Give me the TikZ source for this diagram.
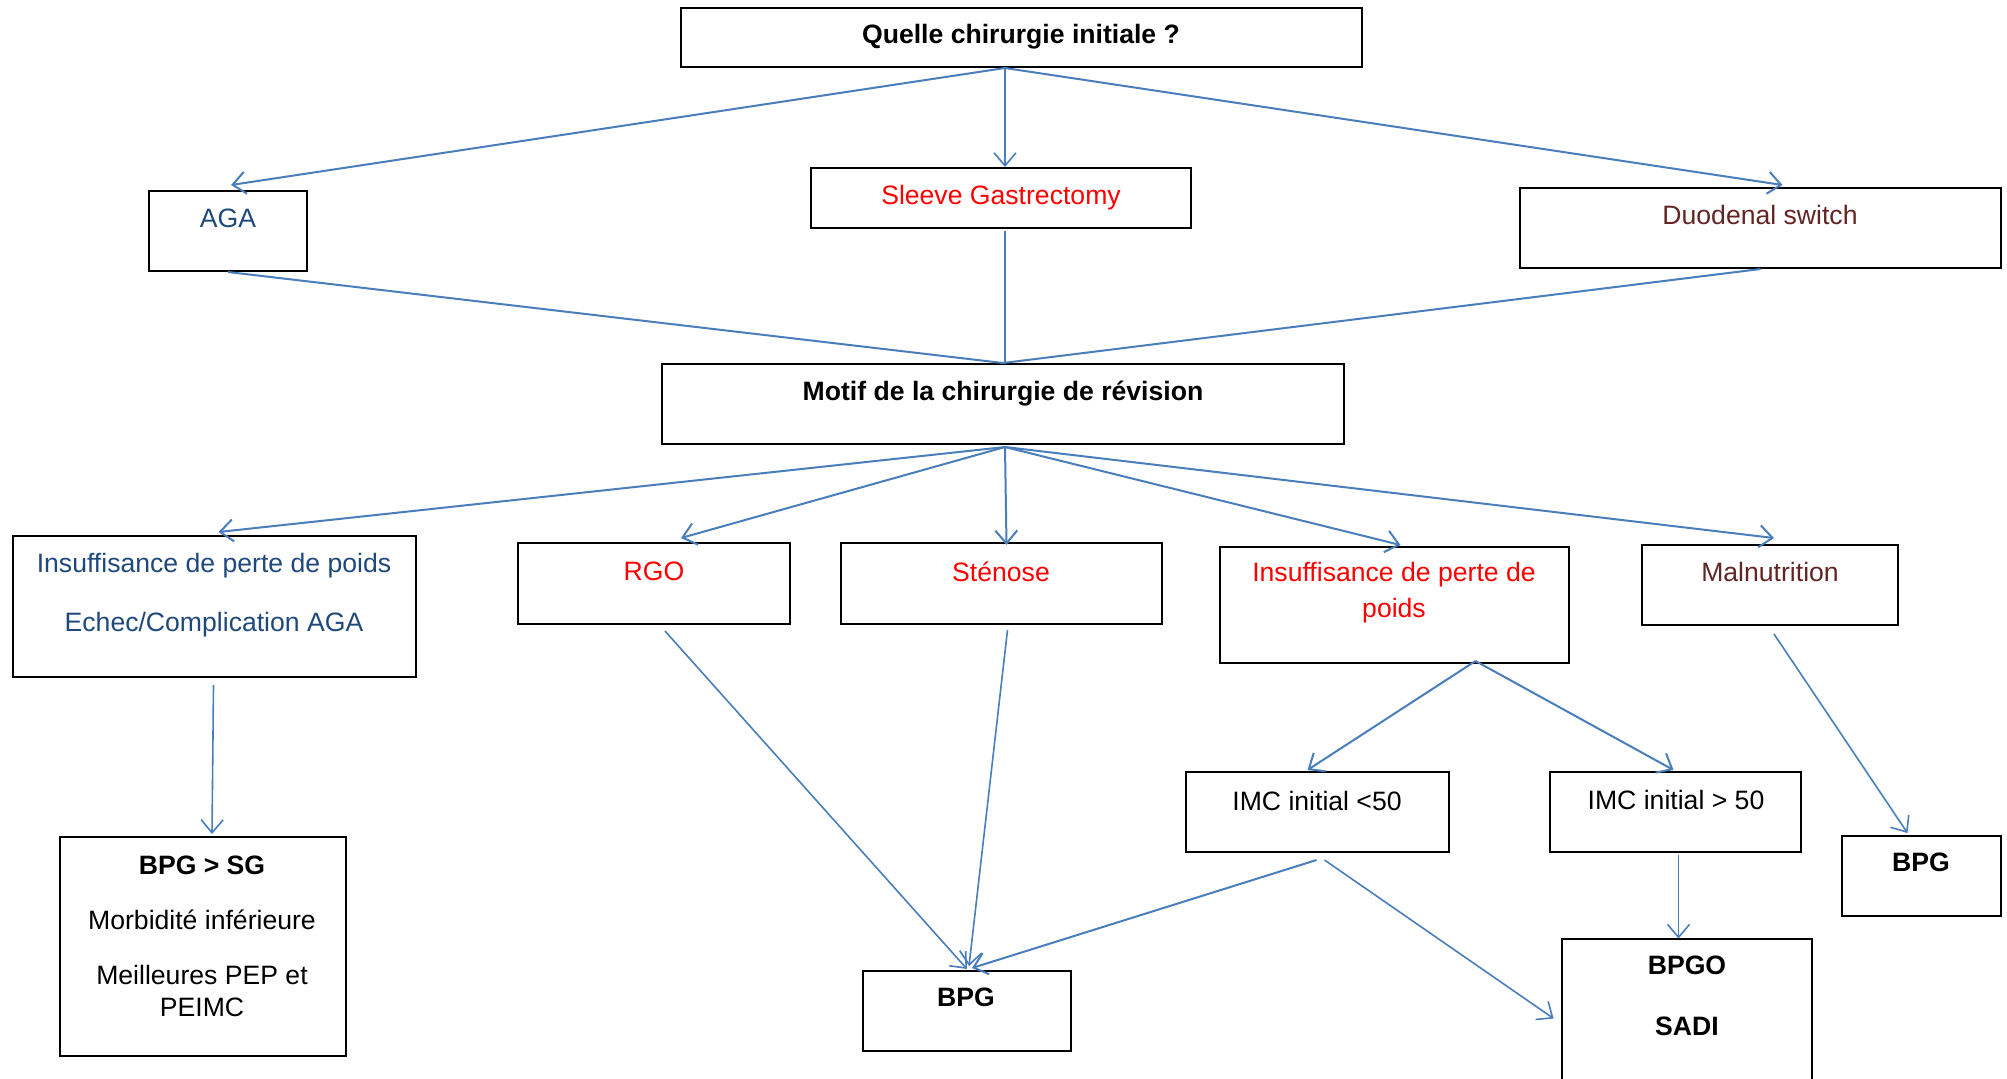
\documentclass[tikz,border=0pt]{standalone}
\usepackage{fontspec}
\setmainfont{Liberation Sans}
\usetikzlibrary{arrows.meta,calc}
\definecolor{arr}{HTML}{4A7EBB}
\definecolor{dblue}{HTML}{1F497D}
\definecolor{dred}{HTML}{632523}
\definecolor{pred}{HTML}{FF0000}
\begin{document}
\begin{tikzpicture}[x=0.5pt,y=-0.5pt,
  box/.style={draw=black,line width=1pt,rectangle,inner sep=0pt},
  txt/.style={inner sep=0pt,align=center,yshift=-0.5pt,font=\fontsize{13.3}{17}\selectfont},
  btxt/.style={txt,font=\fontsize{13.3}{17}\selectfont\bfseries},
  conn/.style={draw=arr,line width=1pt},
  thin/.style={draw=arr,line width=0.8pt},
  arrow/.style={-{Straight Barb[length=6.5pt,width=11pt]}}]
\useasboundingbox (0,0) rectangle (2007,1078);
% boxes
\node[box,minimum width=340.5pt,minimum height=29.5pt] (q) at (1021.5,37.5) {};
\node[box,minimum width=79pt,minimum height=40pt] (aga) at (228,231) {};
\node[box,minimum width=190pt,minimum height=30pt] (sg) at (1001,198) {};
\node[box,minimum width=240.5pt,minimum height=40pt] (ds) at (1760.5,228) {};
\node[box,minimum width=341pt,minimum height=40pt] (motif) at (1003,404) {};
\node[box,minimum width=201.5pt,minimum height=70.5pt] (ins1) at (214.5,606.5) {};
\node[box,minimum width=136pt,minimum height=40.5pt] (rgo) at (654,583.5) {};
\node[box,minimum width=160.5pt,minimum height=40.5pt] (sten) at (1001.5,583.5) {};
\node[box,minimum width=174.5pt,minimum height=58pt] (ins2) at (1394.5,605) {};
\node[box,minimum width=128pt,minimum height=40pt] (mal) at (1770,585) {};
\node[box,minimum width=143pt,minimum height=109.5pt] (bpgsg) at (203,946.5) {};
\node[box,minimum width=104pt,minimum height=40pt] (bpg) at (967,1011) {};
\node[box,minimum width=131.5pt,minimum height=40pt] (imc1) at (1317.5,812) {};
\node[box,minimum width=125.5pt,minimum height=40pt] (imc2) at (1675.5,812) {};
\node[inner sep=0pt,minimum width=125pt,minimum height=75.5pt] (bpgo) at (1687,1014.5) {};
\draw[line width=1pt] (bpgo.south west) |- (bpgo.north east) -- (bpgo.south east);
\node[box,minimum width=79.5pt,minimum height=40pt] (bpg2) at (1921.5,876) {};
% texts
\node[btxt] (qT) at (1021,36) {Quelle chirurgie initiale ?};
\node[txt,text=dblue] (agaT) at (228,217) {AGA};
\node[txt,text=pred] (sgT) at (1001,197) {Sleeve Gastrectomy};
\node[txt,text=dred] (dsT) at (1760,214) {Duodenal switch};
\node[btxt] (motifT) at (1003,393) {Motif de la chirurgie de révision};
\node[txt,text=dblue] (ins1a) at (214,565) {Insuffisance de perte de poids};
\node[txt,text=dblue] (ins1b) at (214,624) {Echec/Complication AGA};
\node[txt,text=pred] (rgoT) at (654,570) {RGO};
\node[txt,text=pred] (stenT) at (1001,571) {Sténose};
\node[txt,text=pred,font=\fontsize{13.3}{18}\selectfont] (ins2T) at (1394,592) {Insuffisance de perte de\\poids};
\node[txt,text=dred] (malT) at (1770,571) {Malnutrition};
\node[txt] (imc1T) at (1317,800) {IMC initial <50};
\node[txt] (imc2T) at (1676,799) {IMC initial > 50};
\node[btxt] (bpg2T) at (1921,861) {BPG};
\node[btxt] (bpgsgA) at (202,864) {BPG > SG};
\node[txt] (bpgsgB) at (202,919) {Morbidité inférieure};
\node[txt,font=\fontsize{13.3}{16}\selectfont] (bpgsgC) at (202,990) {Meilleures PEP et\\PEIMC};
\node[btxt] (bpgT) at (966,996) {BPG};
\node[btxt] (bpgoA) at (1687,964) {BPGO};
\node[btxt] (bpgoB) at (1687,1025) {SADI};
% connectors
\coordinate (qo) at ($(q.south)+(-16.5,0)$);
\draw[conn,arrow] (qo) -- ($(aga.north)+(3,-5)$);
\draw[conn,arrow,line width=0.8pt] (qo) -- (qo |- sg.north);
\draw[conn,arrow] (qo) -- ($(ds.north)+(22,-2)$);
\draw[conn] (aga.south) -- (motif.north);
\draw[conn,line width=0.8pt] ($(sg.south)+(4,2)$) -- ($(motif.north)+(2,0)$);
\draw[conn] (ds.south) -- (motif.north);
\draw[conn,arrow] ($(motif.south)+(2,2)$) -- ($(ins1.north)+(4,-3)$);
\draw[conn,arrow] ($(motif.south)+(2,2)$) -- ($(rgo.north)+(27,-4)$);
\draw[conn,arrow] ($(motif.south)+(2,2)$) -- ($(sten.north)+(5,3)$);
\draw[conn,arrow] ($(motif.south)+(2,2)$) -- ($(ins2.north)+(6,-1)$);
\draw[conn,arrow] ($(motif.south)+(2,2)$) -- ($(mal.north)+(4,-6)$);
\draw[thin,arrow] ($(ins1.south)+(-1,7)$) -- ($(bpgsg.north)+(9,-2)$);
\draw[thin,arrow] ($(rgo.south)+(11,6)$) -- ($(bpg.north)+(0,-1)$);
\draw[thin,arrow] ($(sten.south)+(6,5)$) -- ($(bpg.north)+(2,-4)$);
\draw[conn,arrow] ($(imc1.south)+(-1,7)$) -- ($(bpg.north)+(5,-2)$);
\draw[thin,arrow] ($(imc1.south)+(7,7)$) -- ($(bpgo.west)+(-8,4)$);
\coordinate (io) at ($(ins2.south)+(81,-3)$);
\draw[conn,arrow] (io) -- ($(imc1.north)+(-10,-1)$);
\draw[conn,arrow] (io) -- ($(imc2.north)+(-2,-1)$);
\coordinate (i2o) at ($(imc2.south)+(3,2)$);
\draw[thin,arrow] (i2o) -- (i2o |- bpgo.north);
\draw[thin,arrow] ($(mal.south)+(4,8)$) -- ($(bpg2.north)+(-14,-2)$);
\end{tikzpicture}
\end{document}
